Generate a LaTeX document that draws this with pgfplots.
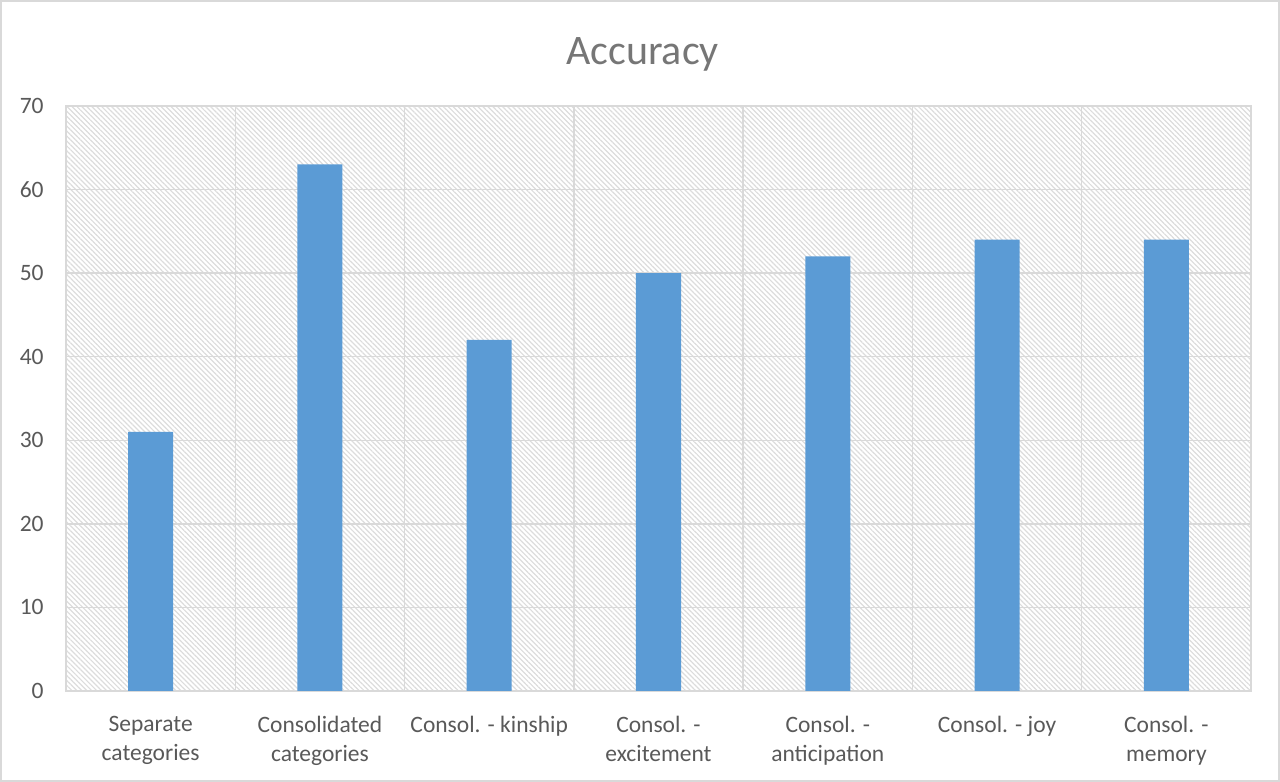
\documentclass[border=0pt]{standalone}
\usepackage{pgfplots}
\pgfplotsset{compat=1.18}
\usepackage{fontspec}
\setmainfont{Carlito}
\usetikzlibrary{patterns.meta}
\definecolor{barblue}{HTML}{5B9BD5}
\definecolor{gridc}{HTML}{D9D9D9}
\definecolor{txt}{HTML}{595959}
\definecolor{titlec}{HTML}{767676}
\definecolor{hatch}{HTML}{DCDCDC}
\begin{document}
\begin{tikzpicture}
\begin{axis}[
  name=ax,
  scale only axis,
  width=592.5pt, height=292.5pt,
  xmin=-0.5, xmax=6.5,
  ymin=0, ymax=70,
  ytick={0,10,...,70},
  xtick={0,...,6},
  xticklabels={{Separate\\categories},{Consolidated\\categories},{Consol. - kinship},{Consol. -\\excitement},{Consol. -\\anticipation},{Consol. - joy},{Consol. -\\memory}},
  minor xtick={-0.5,0.5,...,6.5},
  ymajorgrids, xminorgrids,
  major grid style={gridc, line width=0.75pt},
  minor grid style={gridc, line width=0.75pt},
  major tick length=0pt, minor tick length=0pt,
  axis line style={gridc, line width=0.75pt},
  tick style={draw=none},
  /pgf/number format/assume math mode=true,
  ticklabel style={font=\fontsize{11.75}{14.5}\selectfont, text=txt},
  yticklabel style={anchor=east, inner sep=0pt, xshift=-11pt},
  xticklabel style={align=center, anchor=north, inner sep=0pt, yshift=-12.5pt},
  axis background/.style={pattern={Lines[angle=-45, distance=1.75pt, line width=0.6pt]}, pattern color=hatch},
  title={Accuracy},
  title style={font=\fontsize{21}{25}\selectfont, text=titlec, yshift=8pt, xshift=-8pt},
]
\addplot[ybar, bar width=0.266, fill=barblue, draw=none] coordinates {
  (0,31) (1,63) (2,42) (3,50) (4,52) (5,54) (6,54)
};
\end{axis}
\useasboundingbox ([shift={(-33pt,-45.5pt)}]ax.south west) rectangle ([shift={(14.5pt,53pt)}]ax.north east);
\draw[gridc, line width=0.75pt] ([shift={(-32.6pt,-45.1pt)}]ax.south west) rectangle ([shift={(14.1pt,52.6pt)}]ax.north east);
\end{tikzpicture}
\end{document}
